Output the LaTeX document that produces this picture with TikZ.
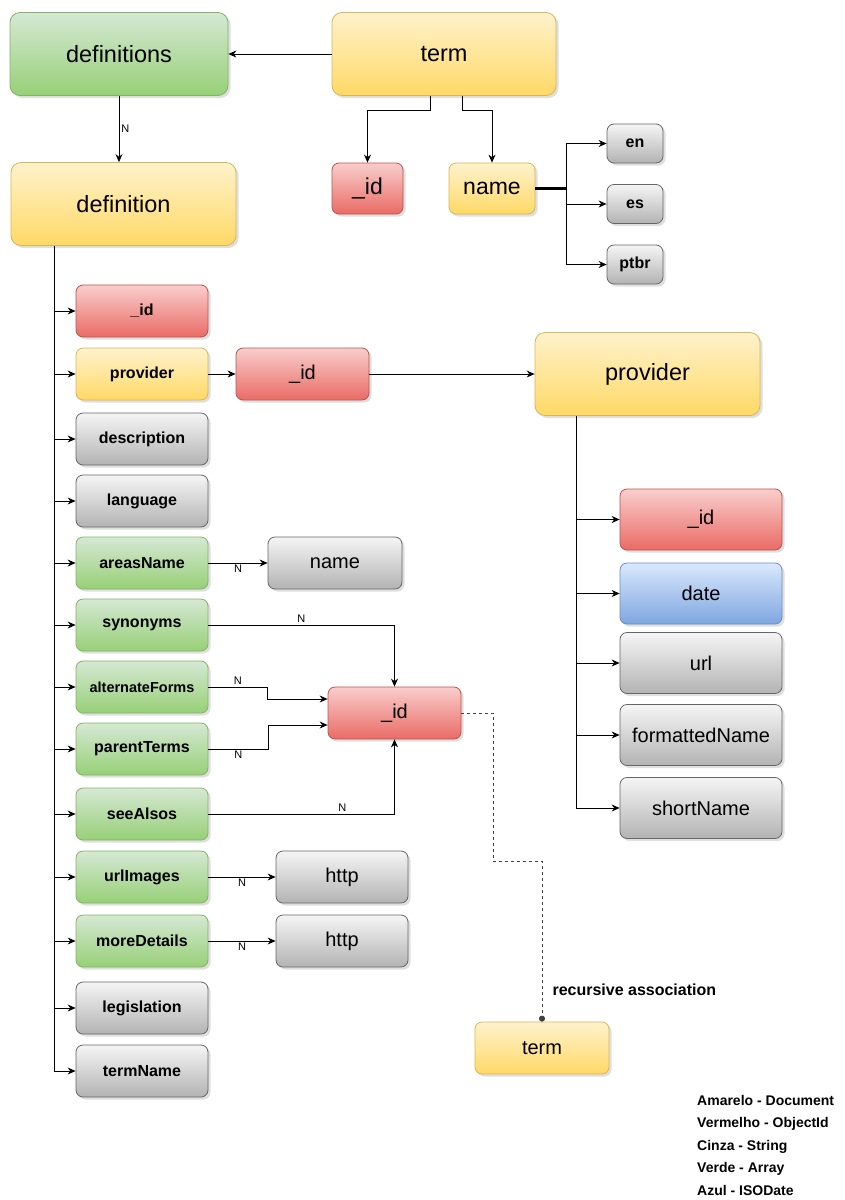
\documentclass[tikz,border=0pt]{standalone}
\usepackage{fontspec}
\setmainfont{Liberation Sans}
\usetikzlibrary{arrows.meta,positioning,calc,shadows}

\definecolor{doctop}{HTML}{FFF2CC}\definecolor{docbot}{HTML}{FFD966}\definecolor{docline}{HTML}{D6B656}
\definecolor{oidtop}{HTML}{F8CECC}\definecolor{oidbot}{HTML}{EA6B66}\definecolor{oidline}{HTML}{B85450}
\definecolor{strtop}{HTML}{F5F5F5}\definecolor{strbot}{HTML}{B3B3B3}\definecolor{strline}{HTML}{666666}
\definecolor{arrtop}{HTML}{D5E8D4}\definecolor{arrbot}{HTML}{97D077}\definecolor{arrline}{HTML}{82B366}
\definecolor{isotop}{HTML}{DAE8FC}\definecolor{isobot}{HTML}{7EA6E0}\definecolor{isoline}{HTML}{6C8EBF}

\begin{document}
\begin{tikzpicture}[x=1pt, y=-1pt,
    field/.style={rectangle, rounded corners=7pt, thick, text=black,
                drop shadow={shadow xshift=2.5pt, shadow yshift=-2.5pt, opacity=0.25}},
    docbox/.style={field, draw=docline, top color=doctop, bottom color=docbot},
    oidbox/.style={field, draw=oidline, top color=oidtop, bottom color=oidbot},
    strbox/.style={field, draw=strline, top color=strtop, bottom color=strbot},
    arrbox/.style={field, draw=arrline, top color=arrtop, bottom color=arrbot},
    datebox/.style={field, draw=isoline, top color=isotop, bottom color=isobot},
    bigsz/.style={minimum width=224pt, minimum height=83pt, rounded corners=10pt,
                font=\fontsize{23.5}{28}\selectfont},
    midsz/.style={minimum width=133pt, minimum height=52pt, font=\fontsize{20}{24}\selectfont},
    colsz/.style={minimum width=132pt, minimum height=52pt, font=\fontsize{16}{19}\bfseries},
    propsz/.style={minimum width=162pt, minimum height=61pt, font=\fontsize{20}{24}\selectfont},
    langsz/.style={minimum width=56pt, minimum height=39pt, font=\fontsize{16}{19}\bfseries},
    nlab/.style={font=\fontsize{11}{13}\selectfont, inner sep=2pt},
    arr/.style={-{Stealth[length=8pt, width=7pt]}, thick},
]
\useasboundingbox (0,0) rectangle (845,1200);

% --- term / definitions ---
\node[arrbox, bigsz, minimum width=218pt] (definitions) at (119,54) {definitions};
\node[docbox, bigsz] (termtop) at (444,54) {term};
\node[docbox, bigsz, minimum width=225pt] (definition) at (123.5,204) {definition};
\node[oidbox, midsz, minimum width=71pt, minimum height=51pt,
      font=\fontsize{23}{27}\selectfont] (tid) at (367.5,188.5) {\_id};
\node[docbox, midsz, minimum width=86pt, minimum height=51pt,
      font=\fontsize{23}{27}\selectfont] (tname) at (492,188.5) {name};
\node[strbox, langsz] (en) at (635,143.5) {en};
\node[strbox, langsz] (es) at (635,204) {es};
\node[strbox, langsz] (ptbr) at (635,264.5) {ptbr};

\draw[arr] (termtop.west) -- (definitions.east);
\draw[arr] (definitions.south) -- node[nlab, right] {N} (definitions.south |- definition.north);
\draw[arr] ([xshift=-14pt]termtop.south) -- ++(0,14) -| (tid.north);
\draw[arr] ([xshift=18pt]termtop.south) -- ++(0,14) -| (tname.north);
\draw[line width=3pt] (tname.east) -- ++(31,0) coordinate (split);
\foreach \n in {en,es,ptbr}
  \draw[arr] (split) |- (\n.west);

% --- definition fields ---
\node[oidbox, colsz] (did) at (142,311) {\_id};
\node[docbox, colsz] (dprov) at (142,374) {provider};
\node[strbox, colsz] (ddesc) at (142,439) {description};
\node[strbox, colsz] (dlang) at (142,501) {language};
\node[arrbox, colsz] (dareas) at (142,563) {areasName};
\node[arrbox, colsz] (dsyn) at (142,625) {synonyms};
\node[arrbox, colsz, font=\fontsize{14.5}{17}\bfseries] (dalt) at (142,687) {alternateForms};
\node[arrbox, colsz] (dpar) at (142,749) {parentTerms};
\node[arrbox, colsz] (dsee) at (142,814) {seeAlsos};
\node[arrbox, colsz] (durl) at (142,877) {urlImages};
\node[arrbox, colsz] (dmore) at (142,941) {moreDetails};
\node[strbox, colsz] (dleg) at (142,1008) {legislation};
\node[strbox, colsz] (dtname) at (142,1071) {termName};

\coordinate (dtrunk) at ([xshift=-69.5pt]definition.south);
\draw[arr] (dtrunk) |- (dtname.west);
\foreach \n in {did,dprov,ddesc,dlang,dareas,dsyn,dalt,dpar,dsee,durl,dmore,dleg}
  \draw[arr] (dtrunk |- \n.west) -- (\n.west);

% --- provider ---
\node[oidbox, midsz] (pid) at (302.5,374) {\_id};
\node[docbox, bigsz, minimum width=225pt] (provider) at (647.5,374) {provider};
\node[oidbox, propsz] (prid) at (701,519.5) {\_id};
\node[datebox, propsz] (prdate) at (701,593.5) {date};
\node[strbox, propsz] (prurl) at (701,663) {url};
\node[strbox, propsz] (prfname) at (701,735) {formattedName};
\node[strbox, propsz] (prshort) at (701,808) {shortName};

\draw[arr] (dprov.east) -- (pid.west);
\draw[arr] (pid.east) -- (provider.west);
\coordinate (ptrunk) at ([xshift=-71.5pt]provider.south);
\draw[arr] (ptrunk) |- (prshort.west);
\foreach \n in {prid,prdate,prurl,prfname}
  \draw[arr] (ptrunk |- \n.west) -- (\n.west);

% --- arrays ---
\node[strbox, midsz, minimum width=134pt] (areaname) at (335,563) {name};
\node[oidbox, midsz] (refid) at (394.5,713) {\_id};
\node[strbox, midsz, minimum width=132pt] (http1) at (342,877) {http};
\node[strbox, midsz, minimum width=132pt] (http2) at (342,941) {http};
\node[docbox, midsz, minimum width=134pt] (termbot) at (542,1048) {term};

\draw[arr] (dareas.east) -- node[nlab, below] {N} (areaname.west);
\draw[arr] (dsyn.east) -| node[nlab, pos=0.25, above] {N} (refid.north);
\draw[arr] (dalt.east) -- node[nlab, above] {N} ++(59,0) |- ([yshift=14pt]refid.west);
\draw[arr] (dpar.east) -- node[nlab, below] {N} ++(60,0) |- ([yshift=-12pt]refid.west);
\draw[arr] (dsee.east) -| node[nlab, pos=0.36, above] {N} (refid.south);
\draw[arr] (durl.east) -- node[nlab, below] {N} (http1.west);
\draw[arr] (dmore.east) -- node[nlab, below] {N} (http2.west);

% --- recursive association ---
\draw[-{Circle[length=6pt]}, thick, dashed, black!75] (refid.east) -- ++(32,0) -- ++(0,148) -| (termbot.north);
\node[anchor=west, font=\fontsize{16}{19}\bfseries] (reclabel) at (549,990) {recursive association};

% --- legend ---
\node[anchor=west, align=left, inner sep=0pt, font=\fontsize{14}{22.5}\bfseries] (legend) at (697,1145)
  {Amarelo - Document\\Vermelho - ObjectId\\Cinza - String\\Verde - Array\\Azul - ISODate};

\end{tikzpicture}
\end{document}
